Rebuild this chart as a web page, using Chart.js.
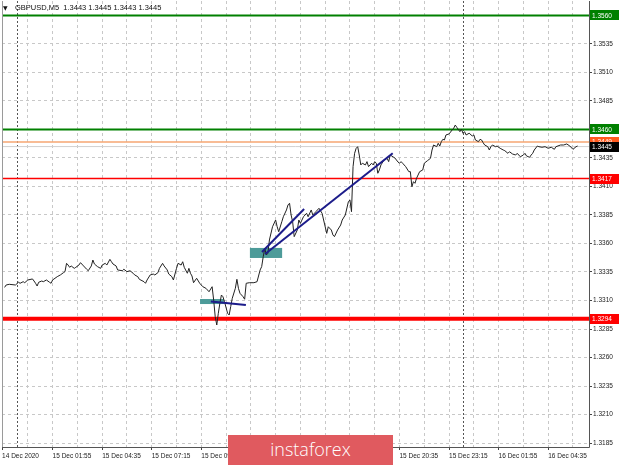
<!DOCTYPE html>
<html><head><meta charset="utf-8">
<script src="https://cdn.jsdelivr.net/npm/chart.js@4/dist/chart.umd.min.js"></script>
<style>
html,body{margin:0;padding:0;background:#fff;}
#wrap{position:relative;width:620px;height:465px;overflow:hidden;background:#fff;}
canvas{position:absolute;left:0;top:0;}
#tri{position:absolute;left:3px;top:4px;font:6px "DejaVu Sans",sans-serif;color:#111;}
#ttl{position:absolute;left:15px;top:3px;font:7.5px "Liberation Sans",Arial,sans-serif;color:#111;white-space:pre;}
#logo{position:absolute;left:228px;top:435px;width:165px;height:30px;background:#e05a5f;color:#fff;font:300 18px "Open Sans",sans-serif;text-align:center;line-height:28px;}
</style></head>
<body><div id="wrap"><canvas id="c" width="620" height="465"></canvas>
<div id="tri">▼</div><div id="ttl">GBPUSD,M5  1.3443 1.3445 1.3443 1.3445</div>
<div id="logo">instaforex</div></div>
<script>
// minutes since 15 Dec 00:00 (M5 bars)
const priceTimes = [-40,-35,-25,-5,5,10,20,25,35,50,55,60,65,70,80,85,95,105,110,115,130,140,150,155,160,165,170,175,185,190,200,205,215,225,230,240,245,250,260,270,275,285,290,300,305,310,320,325,340,345,355,365,375,380,390,395,410,415,420,430,440,445,455,460,470,475,485,490,500,505,515,520,530,535,540,550,555,560,565,570,580,590,600,610,620,630,635,640,645,650,655,660,665,670,680,685,690,695,705,710,715,720,730,735,740,750,765,775,785,790,795,800,805,810,815,825,835,840,845,855,860,870,875,880,885,890,895,905,910,915,925,935,940,950,955,965,975,985,990,1000,1005,1015,1020,1025,1035,1045,1050,1060,1070,1075,1080,1085,1090,1095,1100,1105,1110,1115,1125,1130,1135,1145,1150,1155,1160,1165,1170,1175,1185,1195,1200,1205,1215,1220,1230,1235,1240,1245,1255,1265,1270,1275,1280,1285,1290,1300,1310,1315,1325,1335,1340,1345,1355,1360,1365,1370,1375,1380,1385,1395,1405,1410,1415,1420,1430,1435,1440,1445,1450,1460,1470,1475,1480,1490,1495,1500,1505,1510,1520,1525,1530,1535,1545,1550,1560,1570,1575,1585,1590,1600,1610,1615,1625,1635,1640,1645,1655,1660,1665,1670,1680,1685,1695,1705,1715,1725,1735,1740,1755,1765,1775,1785,1795,1805,1810];
const priceValues = [1.33215,1.33236,1.33242,1.33236,1.33260,1.33251,1.33265,1.33256,1.33280,1.33289,1.33271,1.33251,1.33227,1.33260,1.33271,1.33265,1.33280,1.33260,1.33251,1.33280,1.33309,1.33324,1.33344,1.33353,1.33426,1.33411,1.33391,1.33403,1.33382,1.33391,1.33411,1.33432,1.33403,1.33374,1.33361,1.33403,1.33455,1.33420,1.33397,1.33382,1.33411,1.33426,1.33411,1.33461,1.33440,1.33420,1.33403,1.33368,1.33361,1.33374,1.33353,1.33361,1.33339,1.33324,1.33309,1.33286,1.33265,1.33251,1.33280,1.33324,1.33332,1.33324,1.33344,1.33382,1.33426,1.33403,1.33368,1.33332,1.33309,1.33280,1.33382,1.33426,1.33411,1.33440,1.33391,1.33339,1.33382,1.33339,1.33315,1.33256,1.33295,1.33251,1.33221,1.33207,1.33177,1.33221,1.33104,1.32958,1.32885,1.32988,1.33075,1.33148,1.33133,1.33089,1.32988,1.32973,1.33046,1.33119,1.33207,1.33286,1.33207,1.33163,1.33133,1.33111,1.33251,1.33256,1.33256,1.33265,1.33368,1.33397,1.33484,1.33558,1.33499,1.33514,1.33631,1.33747,1.33806,1.33747,1.33703,1.33791,1.33835,1.33894,1.33938,1.33953,1.33850,1.33791,1.33660,1.33718,1.33806,1.33777,1.33835,1.33865,1.33835,1.33894,1.33850,1.33879,1.33909,1.33865,1.33806,1.33689,1.33747,1.33718,1.33675,1.33660,1.33718,1.33762,1.33806,1.33850,1.33967,1.33982,1.33879,1.34274,1.34391,1.34435,1.34449,1.34376,1.34289,1.34304,1.34289,1.34318,1.34274,1.34304,1.34289,1.34318,1.34304,1.34216,1.34245,1.34289,1.34332,1.34347,1.34318,1.34376,1.34359,1.34350,1.34315,1.34304,1.34318,1.34304,1.34274,1.34230,1.34230,1.34098,1.34142,1.34128,1.34172,1.34230,1.34245,1.34304,1.34326,1.34347,1.34420,1.34464,1.34449,1.34479,1.34455,1.34493,1.34514,1.34508,1.34552,1.34561,1.34596,1.34611,1.34639,1.34619,1.34581,1.34602,1.34567,1.34581,1.34552,1.34567,1.34543,1.34552,1.34508,1.34493,1.34514,1.34508,1.34484,1.34464,1.34449,1.34420,1.34449,1.34464,1.34449,1.34455,1.34435,1.34420,1.34414,1.34391,1.34405,1.34385,1.34376,1.34391,1.34361,1.34376,1.34391,1.34368,1.34356,1.34376,1.34391,1.34420,1.34455,1.34449,1.34444,1.34449,1.34435,1.34444,1.34426,1.34449,1.34464,1.34464,1.34473,1.34455,1.34426,1.34449,1.34455];

// horizontal levels
const levelValues = [1.3560, 1.3460, 1.3417, 1.3294];
const levelLabels = ['1.3560', '1.3460', '1.3417', '1.3294'];
const askValue = 1.3449, askLabel = '1.3449';
const bidValue = 1.3445, bidLabel = '1.3445';

// trend lines (start/end time & price)
const trendStartT = [626, 791, 801];
const trendEndT   = [739, 927, 1213];
const trendStartP = [1.33091, 1.33525, 1.33508];
const trendEndP   = [1.33061, 1.33903, 1.34391];

// highlighted zones
const zoneStartT = [591, 752];
const zoneEndT   = [668, 856];
const zoneLowP   = [1.33069, 1.33473];
const zoneHighP  = [1.33113, 1.33561];

// day separators
const daySeparators = [0, 1440];

// axes
const xTickValues = [-48, 35, 115, 195, 275, 355, 435, 515, 595, 675, 755, 835, 915, 995, 1075, 1155, 1235, 1315, 1395, 1475, 1555, 1635, 1715, 1795];
const xTickLabels = ['14 Dec 2020', '', '15 Dec 01:55', '', '15 Dec 04:35', '', '15 Dec 07:15', '', '15 Dec 09:55', '', '15 Dec 12:35', '', '15 Dec 15:15', '', '15 Dec 17:55', '', '15 Dec 20:35', '', '15 Dec 23:15', '', '16 Dec 01:55', '', '16 Dec 04:35', ''];
const yTickValues = [1.3185, 1.3210, 1.3235, 1.3260, 1.3285, 1.3310, 1.3335, 1.3360, 1.3385, 1.3410, 1.3435, 1.3460, 1.3485, 1.3510, 1.3535];
const yTickLabels = ['1.3185', '1.3210', '1.3235', '1.3260', '1.3285', '1.3310', '1.3335', '1.3360', '1.3385', '1.3410', '1.3435', '1.3460', '1.3485', '1.3510', '1.3535'];
const X_MIN = -48.4, X_MAX = 1846.8, Y_MIN = 1.31815, Y_MAX = 1.35727;

// styles
const levelColors = ['#008000', '#008000', '#ff0000', '#ff0000'];
const levelWidths = [2, 2, 1.5, 4];
const FONT = '"Liberation Sans", Arial, sans-serif';

const datasets = [];
for (let i = 0; i < trendStartT.length; i++) {
  datasets.push({ data: [{x: trendStartT[i], y: trendStartP[i]}, {x: trendEndT[i], y: trendEndP[i]}],
    borderColor: '#1c1c8a', borderWidth: 2, pointRadius: 0, order: 0 });
}
datasets.push({ data: priceTimes.map((t, i) => ({x: t, y: priceValues[i]})),
  borderColor: '#222', borderWidth: 1, pointRadius: 0, order: 1 });
for (let i = 0; i < levelValues.length; i++) {
  datasets.push({ data: [{x: X_MIN, y: levelValues[i]}, {x: X_MAX, y: levelValues[i]}],
    borderColor: levelColors[i], borderWidth: levelWidths[i], pointRadius: 0, order: 2 });
}
datasets.push({ data: [{x: X_MIN, y: askValue}, {x: X_MAX, y: askValue}], borderColor: '#f6a672', borderWidth: 1.5, pointRadius: 0, order: 3 });
datasets.push({ data: [{x: X_MIN, y: bidValue}, {x: X_MAX, y: bidValue}], borderColor: '#d0d0d0', borderWidth: 1, pointRadius: 0, order: 4 });

const decor = {
  id: 'decor',
  beforeDatasetsDraw(chart) {
    const {ctx, chartArea: a, scales: {x, y}} = chart;
    ctx.save();
    ctx.strokeStyle = '#555'; ctx.lineWidth = 1; ctx.setLineDash([2, 2]);
    daySeparators.forEach(t => {
      const px = Math.round(x.getPixelForValue(t)) + 0.5;
      ctx.beginPath(); ctx.moveTo(px, a.top); ctx.lineTo(px, a.bottom); ctx.stroke();
    });
    ctx.setLineDash([]);
    ctx.fillStyle = '#4d9b99';
    for (let i = 0; i < zoneStartT.length; i++) {
      const x0 = x.getPixelForValue(zoneStartT[i]), x1 = x.getPixelForValue(zoneEndT[i]);
      const y0 = y.getPixelForValue(zoneHighP[i]), y1 = y.getPixelForValue(zoneLowP[i]);
      ctx.fillRect(x0, y0, x1 - x0, y1 - y0);
    }
    ctx.restore();
  },
  afterDraw(chart) {
    const {ctx, chartArea: a, scales: {y}} = chart;
    ctx.save();
    ctx.strokeStyle = '#9a9a9a'; ctx.lineWidth = 1;
    ctx.beginPath(); ctx.moveTo(a.left + 0.5, a.top); ctx.lineTo(a.left + 0.5, a.bottom); ctx.stroke();
    ctx.strokeStyle = '#555';
    ctx.beginPath(); ctx.moveTo(a.left, a.bottom + 0.5); ctx.lineTo(a.right + 0.5, a.bottom + 0.5);
    ctx.lineTo(a.right + 0.5, a.top); ctx.stroke();
    const box = (v, label, bg) => {
      const py = y.getPixelForValue(v);
      ctx.fillStyle = bg; ctx.fillRect(a.right + 1, Math.round(py - 5), 29, 10);
      ctx.fillStyle = '#fff'; ctx.font = '6.5px ' + FONT; ctx.textBaseline = 'middle'; ctx.textAlign = 'left';
      ctx.fillText(label, a.right + 3, py + 0.5);
    };
    levelValues.forEach((v, i) => box(v, levelLabels[i], levelColors[i]));
    box(askValue, askLabel, '#ff5a1e');
    box(bidValue, bidLabel, '#000');
    ctx.restore();
  }
};

new Chart(document.getElementById('c'), {
  type: 'line',
  data: { datasets },
  options: {
    responsive: false, animation: false, parsing: true,
    layout: { padding: { left: 2, top: 1, right: 0, bottom: 0 } },
    plugins: { legend: { display: false }, tooltip: { enabled: false }, title: { display: false } },
    elements: { line: { tension: 0 } },
    scales: {
      x: {
        type: 'linear', min: X_MIN, max: X_MAX,
        afterFit: s => { s.height = 18; s.paddingLeft = 0; s.paddingRight = 0; },
        afterBuildTicks: s => { s.ticks = xTickValues.map(v => ({ value: v })); },
        border: { display: false, dash: [3, 3] },
        grid: {
          color: c => (c.tick && c.tick.value === X_MIN) ? 'rgba(0,0,0,0)' : '#c8c8c8',
          lineWidth: 1, drawTicks: true, tickLength: 3, tickBorderDash: [],
          tickColor: c => (c.index !== undefined && xTickLabels[c.index]) ? '#444' : 'rgba(0,0,0,0)'
        },
        ticks: {
          autoSkip: false, maxRotation: 0, minRotation: 0, align: 'start', padding: 2,
          color: '#222', font: { family: FONT, size: 6.5 },
          callback: (v, i) => xTickLabels[i]
        }
      },
      y: {
        type: 'linear', position: 'right', min: Y_MIN, max: Y_MAX,
        afterFit: s => { s.width = 31; s.paddingTop = 0; s.paddingBottom = 0; },
        afterBuildTicks: s => { s.ticks = yTickValues.map(v => ({ value: v })); },
        border: { display: false, dash: [3, 3] },
        grid: { color: '#c8c8c8', lineWidth: 1, drawTicks: true, tickLength: 3, tickColor: '#444', tickBorderDash: [] },
        ticks: { color: '#222', padding: 1, font: { family: FONT, size: 6.5 }, callback: (v, i) => yTickLabels[i] }
      }
    }
  },
  plugins: [decor]
});
</script>
</body></html>
